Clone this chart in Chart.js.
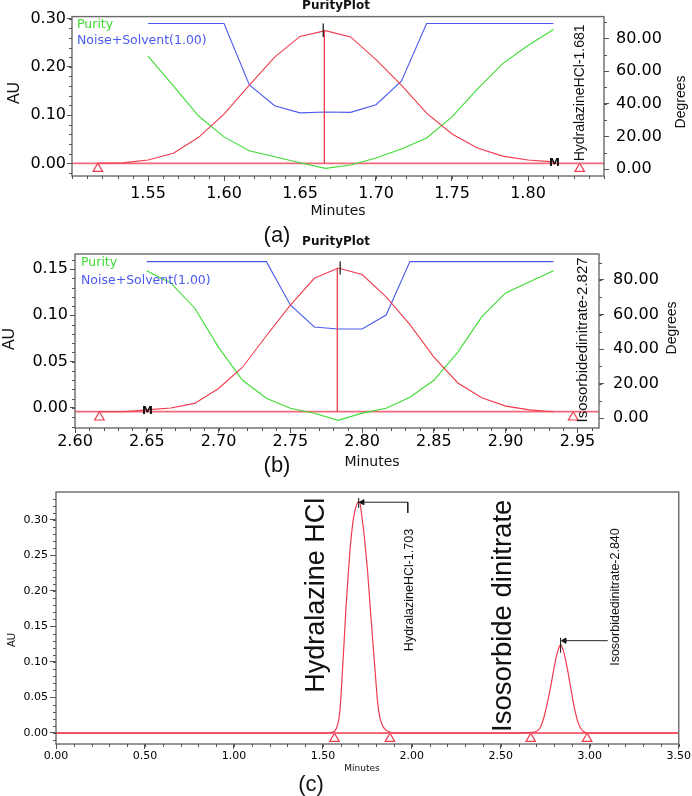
<!DOCTYPE html>
<html>
<head>
<meta charset="utf-8">
<script src="https://cdn.jsdelivr.net/npm/chart.js@4.4.1/dist/chart.umd.min.js"></script>
<style>
  body { margin: 0; background: #fff; }
  #page { position: relative; width: 692px; height: 796px; overflow: hidden; background: #fff; }
  canvas { position: absolute; left: 0; }
  .tag { position: absolute; font: 22px "Liberation Sans", Arial, sans-serif; color: #111; transform: translate(-50%, -50%); }
</style>
</head>
<body>
<div id="page">
  <canvas id="chartA" width="692" height="228" style="top:0"></canvas>
  <canvas id="chartB" width="692" height="246" style="top:228px"></canvas>
  <canvas id="chartC" width="692" height="322" style="top:474px"></canvas>
  <div class="tag" style="left:277px;top:235px">(a)</div>
  <div class="tag" style="left:277px;top:465px">(b)</div>
  <div class="tag" style="left:311px;top:784px">(c)</div>
</div>
<script>
const RED = '#ef3b4e', BASE_RED = '#f26a7c', GREEN = '#3fdc35', BLUE = '#4a5aee', FRAME = '#6a6a6a';

// (a) Hydralazine HCl purity plot
const peakTimeA = [1.5167, 1.5333, 1.5500, 1.5667, 1.5833, 1.6000, 1.6167, 1.6333, 1.6500, 1.6667,
                   1.6833, 1.7000, 1.7167, 1.7333, 1.7500, 1.7667, 1.7833, 1.8000, 1.8167];
const peakAuA = [0.000, 0.001, 0.007, 0.021, 0.054, 0.102, 0.162, 0.220, 0.263, 0.275,
                 0.262, 0.215, 0.162, 0.104, 0.061, 0.032, 0.015, 0.007, 0.003];
const purityTimeA = [1.5500, 1.5667, 1.5833, 1.6000, 1.6167, 1.6333, 1.6500, 1.6667, 1.6833,
                     1.7000, 1.7167, 1.7333, 1.7500, 1.7667, 1.7833, 1.8000, 1.8167];
const purityAngleA = [69.2, 50.9, 32.5, 19.7, 11.2, 7.5, 3.8, 0.4, 2.5, 6.8, 12.3, 19.0, 32.0, 49.0, 64.6, 75.7, 85.5];
const thresholdA = [89.2, 89.2, 89.2, 89.2, 51.5, 38.8, 34.4, 34.9, 34.7, 39.4, 53.8, 89.2, 89.2, 89.2, 89.2, 89.2, 89.2];
const xTicksA = [1.55, 1.60, 1.65, 1.70, 1.75, 1.80];
const auTicksA = [0.00, 0.10, 0.20, 0.30];
const apexA = 1.6660, apexAuA = 0.275;
const triTimesA = [1.517, 1.834];

// (b) Isosorbide dinitrate purity plot
const peakTimeB = [2.6167, 2.6333, 2.6500, 2.6667, 2.6833, 2.7000, 2.7167, 2.7333, 2.7500, 2.7667,
                   2.7833, 2.8000, 2.8167, 2.8333, 2.8500, 2.8667, 2.8833, 2.9000, 2.9167, 2.9333];
const peakAuB = [-0.004, -0.004, -0.002, 0.000, 0.005, 0.021, 0.044, 0.078, 0.111, 0.140,
                 0.151, 0.144, 0.120, 0.090, 0.055, 0.027, 0.011, 0.002, -0.002, -0.004];
const purityTimeB = [2.6500, 2.6667, 2.6833, 2.7000, 2.7167, 2.7333, 2.7500, 2.7667, 2.7833,
                     2.8000, 2.8167, 2.8333, 2.8500, 2.8667, 2.8833, 2.9000, 2.9167, 2.9333];
const purityAngleB = [85.3, 78.3, 63.8, 41.0, 22.0, 11.6, 5.8, 2.9, -1.2, 3.0, 5.8, 12.2, 22.0, 38.3, 58.6, 72.5, 78.9, 85.3];
const thresholdB = [90.6, 90.6, 90.6, 90.6, 90.6, 90.6, 65.5, 52.8, 51.6, 51.6, 59.7, 90.6, 90.6, 90.6, 90.6, 90.6, 90.6, 90.6];
const xTicksB = [2.60, 2.65, 2.70, 2.75, 2.80, 2.85, 2.90, 2.95];
const auTicksB = [0.00, 0.05, 0.10, 0.15];
const apexB = 2.7827, apexAuB = 0.151;
const triTimesB = [2.617, 2.947];

const degTicks = [0, 20, 40, 60, 80];

// (c) chromatogram
const chromTime = [0.00, 0.50, 1.00, 1.50, 1.55, 1.575, 1.59, 1.60, 1.61, 1.62, 1.63, 1.64, 1.65, 1.66, 1.67,
                   1.68, 1.69, 1.701, 1.71, 1.72, 1.73, 1.74, 1.752, 1.765, 1.78, 1.795, 1.808, 1.82, 1.834,
                   1.85, 1.88, 1.92, 2.00, 2.50, 2.68, 2.71, 2.724, 2.74, 2.752, 2.766, 2.78, 2.795, 2.808,
                   2.822, 2.836, 2.85, 2.864, 2.878, 2.892, 2.906, 2.92, 2.934, 2.948, 2.965, 2.99, 3.10, 3.50];
const chromAu = [0, 0, 0, 0, 0.001, 0.006, 0.020, 0.045, 0.088, 0.132, 0.177, 0.215, 0.250, 0.278, 0.299,
                 0.313, 0.322, 0.326, 0.322, 0.303, 0.283, 0.258, 0.225, 0.180, 0.131, 0.082, 0.042, 0.022, 0.011,
                 0.005, 0.001, 0, 0, 0, 0.001, 0.004, 0.009, 0.020, 0.032, 0.048, 0.065, 0.086, 0.103,
                 0.117, 0.124, 0.117, 0.103, 0.085, 0.065, 0.045, 0.028, 0.015, 0.007, 0.002, 0, 0, 0];
const xTicksC = [0.00, 0.50, 1.00, 1.50, 2.00, 2.50, 3.00, 3.50];
const auTicksC = [0.00, 0.05, 0.10, 0.15, 0.20, 0.25, 0.30];
const triTimesC = [1.565, 1.877, 2.668, 2.985];
const peaksC = [1.701, 2.836];
const peakTopsC = [0.326, 0.124];

const pts = (xs, ys) => xs.map((x, i) => ({x, y: ys[i]}));

function line(data, color, axis, width, extra) {
    return Object.assign({
        data, borderColor: color, borderWidth: width || 1, yAxisID: axis || 'y',
        pointRadius: 0, fill: false, tension: 0
    }, extra || {});
}

function markers(xs, y) {
    return {
        data: xs.map(x => ({x, y})), yAxisID: 'y', showLine: false,
        pointStyle: 'triangle', pointRadius: 5.5, pointBorderWidth: 1.2,
        pointBorderColor: RED, pointBackgroundColor: 'rgba(0,0,0,0)', borderColor: RED
    };
}

function axisX(min, max, ticks, size, height, tickLen, pad) {
    return {
        type: 'linear', min, max,
        afterBuildTicks: s => { s.ticks = ticks.map(v => ({value: v})); },
        afterFit: s => { s.height = height; },
        grid: {drawOnChartArea: false, tickLength: tickLen, tickColor: '#555'},
        border: {display: false},
        ticks: {color: '#000', font: {family: 'DejaVu Sans', size}, padding: pad,
                maxRotation: 0, autoSkip: false, callback: v => v.toFixed(2)}
    };
}

function axisY(position, min, max, ticks, size, width, tickLen, pad) {
    return {
        type: 'linear', position, min, max,
        afterBuildTicks: s => { s.ticks = ticks.map(v => ({value: v})); },
        afterFit: s => { s.width = width; },
        grid: {drawOnChartArea: false, tickLength: tickLen, tickColor: '#555'},
        border: {display: false},
        ticks: {color: '#000', font: {family: 'DejaVu Sans', size}, padding: pad,
                autoSkip: false, callback: v => v.toFixed(2)}
    };
}

// free text, placed in pixels or in data values
const panelText = {
    id: 'panelText',
    afterDatasetsDraw(chart, args, opts) {
        const ctx = chart.ctx;
        (opts.items || []).forEach(it => {
            let x = it.x, y = it.y;
            if (it.xv !== undefined) x = chart.scales.x.getPixelForValue(it.xv);
            if (it.yv !== undefined) y = chart.scales.y.getPixelForValue(it.yv);
            ctx.save();
            ctx.translate(x, y);
            if (it.rot) ctx.rotate(it.rot * Math.PI / 180);
            ctx.font = it.font;
            ctx.fillStyle = it.color || '#111';
            ctx.textAlign = it.align || 'center';
            ctx.textBaseline = 'middle';
            ctx.fillText(it.text, 0, 0);
            ctx.restore();
        });
    }
};

// box round the plot and the small in-between ticks
const frame = {
    id: 'frame',
    afterDraw(chart, args, opts) {
        const {ctx, chartArea: a} = chart;
        ctx.save();
        ctx.strokeStyle = FRAME;
        ctx.lineWidth = 1.4;
        ctx.strokeRect(a.left, a.top, a.right - a.left, a.bottom - a.top);
        ctx.strokeStyle = '#555';
        ctx.lineWidth = 1;
        (opts.minor || []).forEach(m => {
            const s = chart.scales[m.axis];
            const n0 = Math.ceil(s.min / m.step - 1e-6), n1 = Math.floor(s.max / m.step + 1e-6);
            ctx.beginPath();
            for (let n = n0; n <= n1; n++) {
                const p = Math.round(s.getPixelForValue(n * m.step)) + 0.5;
                if (s.isHorizontal()) { ctx.moveTo(p, a.bottom); ctx.lineTo(p, a.bottom + m.len); }
                else if (s.position === 'left') { ctx.moveTo(a.left, p); ctx.lineTo(a.left - m.len, p); }
                else { ctx.moveTo(a.right, p); ctx.lineTo(a.right + m.len, p); }
            }
            ctx.stroke();
        });
        ctx.restore();
    }
};

function makeChart(id, datasets, scales, padding, texts, minor) {
    return new Chart(document.getElementById(id), {
        type: 'line',
        data: {datasets},
        options: {
            responsive: false, animation: false, events: [],
            layout: {padding, autoPadding: false},
            scales,
            plugins: {legend: {display: false}, tooltip: {enabled: false},
                      panelText: {items: texts}, frame: {minor}}
        },
        plugins: [panelText, frame]
    });
}

const H = '"DejaVu Sans"', V = '"Liberation Sans"';

// (a)
makeChart('chartA', [
    line([{x: apexA - 0.0007, y: 0.262}, {x: apexA - 0.0007, y: 0.290}], '#111', 'y', 1.2),
    line(pts(peakTimeA, peakAuA), RED, 'y', 1.1),
    line([{x: apexA, y: 0}, {x: apexA, y: apexAuA}], RED, 'y', 1.3),
    line(pts(purityTimeA, purityAngleA), GREEN, 'y1', 1.1),
    line(pts(purityTimeA, thresholdA), BLUE, 'y1', 1.1),
    line([{x: 1.50, y: 0}, {x: 1.85, y: 0}], BASE_RED, 'y', 1.8),
    markers(triTimesA, -0.011)
], {
    x: axisX(1.50, 1.85, xTicksA, 16, 52, 5, 3),
    y: axisY('left', -0.0262, 0.3041, auTicksA, 16, 72, 5, 1),
    y1: axisY('right', -4.27, 93.4, degTicks, 16, 88, 5, 7)
}, {top: 16, left: 0, right: 0, bottom: 0}, [
    {text: 'PurityPlot', x: 336, y: 6, font: 'bold 12px ' + H},
    {text: 'Purity', x: 77, y: 25, align: 'left', font: '12.5px ' + H, color: GREEN},
    {text: 'Noise+Solvent(1.00)', x: 77, y: 41, align: 'left', font: '12.5px ' + H, color: BLUE},
    {text: 'AU', x: 15, y: 93, rot: -90, font: '16px ' + V},
    {text: 'Degrees', x: 681, y: 102, rot: -90, font: '14px ' + V},
    {text: 'Minutes', x: 338, y: 211, font: '14px ' + H},
    {text: 'HydralazineHCl-1.681', xv: 1.834, yv: 0.146, rot: -90, font: '14px ' + V},
    {text: 'M', xv: 1.8174, yv: 0, font: 'bold 11px ' + H}
], [{axis: 'x', step: 0.01, len: 3}, {axis: 'y', step: 0.02, len: 3}, {axis: 'y1', step: 10, len: 3}]);

// (b)
makeChart('chartB', [
    line([{x: apexB + 0.002, y: 0.144}, {x: apexB + 0.002, y: 0.158}], '#111', 'y', 1.2),
    line(pts(peakTimeB, peakAuB), RED, 'y', 1.1),
    line([{x: apexB, y: -0.004}, {x: apexB, y: apexAuB}], RED, 'y', 1.3),
    line(pts(purityTimeB, purityAngleB), GREEN, 'y1', 1.1),
    line(pts(purityTimeB, thresholdB), BLUE, 'y1', 1.1),
    line([{x: 2.60, y: -0.004}, {x: 2.965, y: -0.004}], BASE_RED, 'y', 1.8),
    markers(triTimesB, -0.010)
], {
    x: axisX(2.60, 2.965, xTicksB, 16, 46, 5, -1),
    y: axisY('left', -0.0216, 0.1662, auTicksB, 16, 75, 5, 2),
    y1: axisY('right', -5.6, 95.0, degTicks, 16, 93, 5, 9)
}, {top: 26, left: 0, right: 0, bottom: 0}, [
    {text: 'PurityPlot', x: 336, y: 14, font: 'bold 12px ' + H},
    {text: 'Purity', x: 81, y: 35, align: 'left', font: '12.5px ' + H, color: GREEN},
    {text: 'Noise+Solvent(1.00)', x: 81, y: 53, align: 'left', font: '12.5px ' + H, color: BLUE},
    {text: 'AU', x: 10, y: 111, rot: -90, font: '16px ' + V},
    {text: 'Degrees', x: 672, y: 100, rot: -90, font: '14px ' + V},
    {text: 'Minutes', x: 372, y: 234, font: '14px ' + H},
    {text: 'Isosorbidedinitrate-2.827', xv: 2.9538, yv: 0.0734, rot: -90, font: '15px ' + V},
    {text: 'M', xv: 2.6505, yv: -0.003, font: 'bold 11px ' + H}
], [{axis: 'x', step: 0.01, len: 3}, {axis: 'y', step: 0.01, len: 3}, {axis: 'y1', step: 10, len: 3}]);

// (c)
makeChart('chartC', [
    line([{x: peaksC[0], y: peakTopsC[0] - 0.009}, {x: peaksC[0], y: peakTopsC[0] + 0.005}], '#111', 'y', 1),
    line([{x: peaksC[1], y: peakTopsC[1] - 0.011}, {x: peaksC[1], y: peakTopsC[1] + 0.010}], '#111', 'y', 1),
    line([{x: 1.716, y: 0.325}, {x: 1.977, y: 0.325}, {x: 1.977, y: 0.310}], '#222', 'y', 1),
    line([{x: 2.852, y: 0.130}, {x: 3.101, y: 0.130}], '#222', 'y', 1),
    {data: [{x: 1.722, y: 0.325}, {x: 2.858, y: 0.130}], yAxisID: 'y', showLine: false,
     pointStyle: 'triangle', pointRotation: 270, pointRadius: 3,
     pointBackgroundColor: '#111', pointBorderColor: '#111', pointBorderWidth: 1},
    line(pts(chromTime, chromAu), RED, 'y', 1.2, {cubicInterpolationMode: 'monotone'}),
    line([{x: 0, y: 0}, {x: 3.5, y: 0}], BASE_RED, 'y', 1.8),
    markers(triTimesC, -0.008)
], {
    x: axisX(0, 3.5, xTicksC, 11, 52, 5, 1),
    y: axisY('left', -0.0155, 0.3394, auTicksC, 11, 56, 6, 2)
}, {top: 18, left: 0, right: 12, bottom: 0}, [
    {text: 'AU', x: 12, y: 166, rot: -90, font: '10px ' + V},
    {text: 'Minutes', x: 362, y: 295, font: '9px ' + H},
    {text: 'Hydralazine HCl', xv: 1.464, yv: 0.194, rot: -90, font: '27px ' + V},
    {text: 'Isosorbide dinitrate', xv: 2.513, yv: 0.165, rot: -90, font: '27.5px ' + V},
    {text: 'HydralazineHCl-1.703', xv: 1.985, yv: 0.2014, rot: -90, font: '12.5px ' + V},
    {text: 'Isosorbidedinitrate-2.840', xv: 3.146, yv: 0.1915, rot: -90, font: '12.5px ' + V}
], [{axis: 'x', step: 0.1, len: 3}, {axis: 'y', step: 0.01, len: 3}]);
</script>
</body>
</html>
